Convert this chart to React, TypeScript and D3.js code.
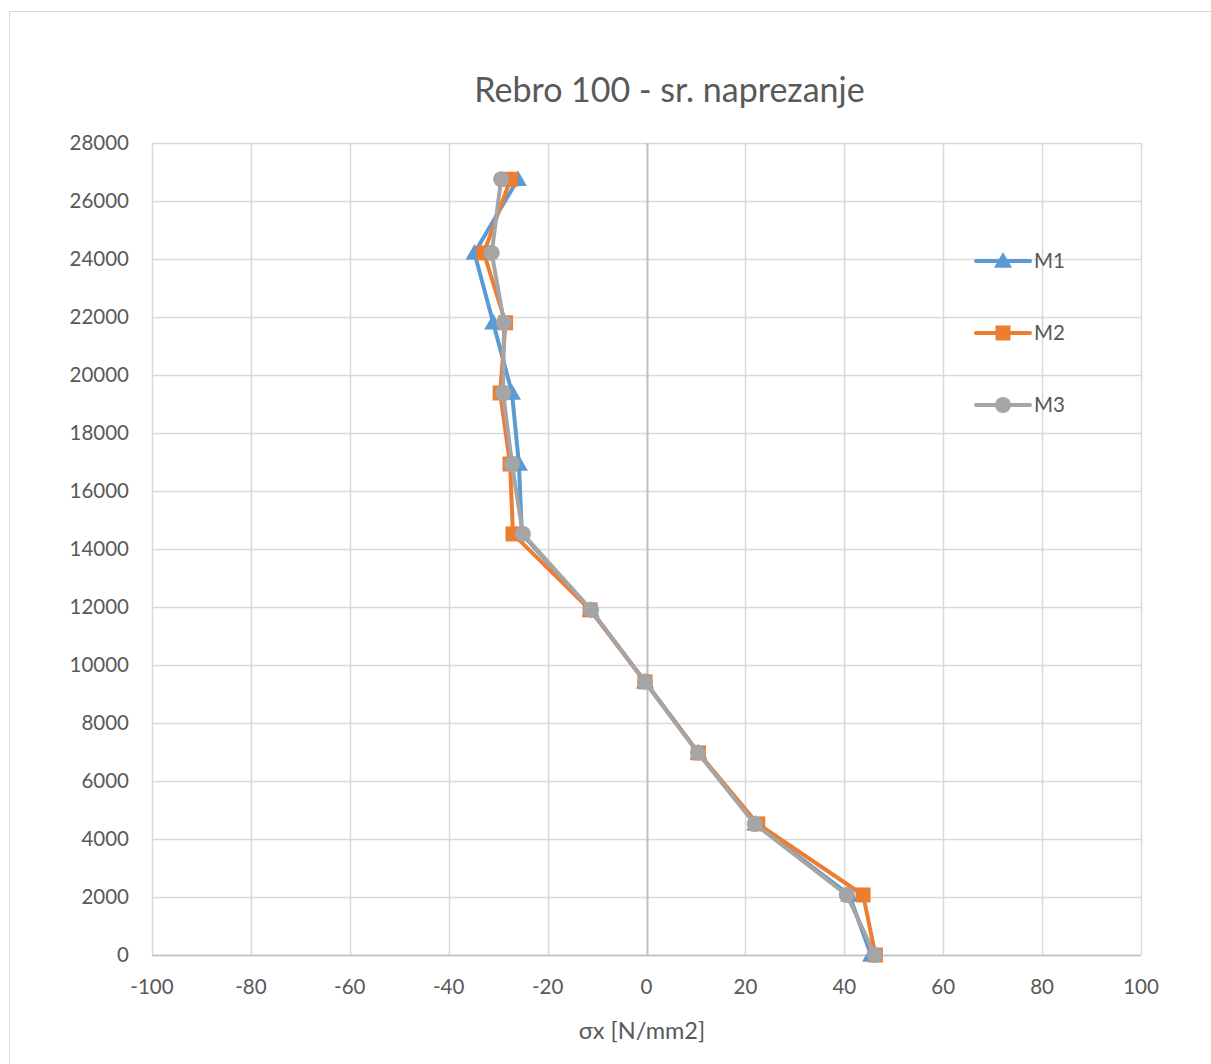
import React from "react";
import * as d3 from "d3";

const yLevels = [0, 2070, 4520, 6970, 9420, 11900, 14520, 16930, 19380, 21800, 24210, 26750];
const m1 = [45.4, 41.0, 22.0, 10.5, -0.3, -11.3, -25.2, -25.8, -27.2, -31.0, -34.8, -26.0];
const m2 = [46.3, 43.8, 22.5, 10.5, -0.3, -11.4, -27.0, -27.6, -29.6, -28.5, -32.9, -27.5];
const m3 = [46.2, 40.5, 21.9, 10.4, -0.3, -11.2, -25.0, -27.2, -29.0, -28.8, -31.3, -29.4];
const xTicks = [-100, -80, -60, -40, -20, 0, 20, 40, 60, 80, 100];
const yTicks = [0, 2000, 4000, 6000, 8000, 10000, 12000, 14000, 16000, 18000, 20000, 22000, 24000, 26000, 28000];
const seriesNames = ["M1", "M2", "M3"];
const seriesColors = ["#5b9bd5", "#ed7d31", "#a5a5a5"];
const title = "Rebro 100 - sr. naprezanje";
const xTitle = "σx [N/mm2]";

const W = 1211, H = 1064;
const L = 152, R = 1141, T = 143, B = 955;
const FONT = "Lato, 'Open Sans', sans-serif";
const TXT = "#595959";

function Marker({ kind, x, y, color }: { kind: number; x: number; y: number; color: string }) {
  if (kind === 0) {
    const s = 9;
    return <path d={`M${x},${y - s}L${x + s},${y + s * 0.75}L${x - s},${y + s * 0.75}Z`} fill={color} />;
  }
  if (kind === 1) {
    return <rect x={x - 7.5} y={y - 7.5} width={15} height={15} fill={color} />;
  }
  return <circle cx={x} cy={y} r={8} fill={color} />;
}

export default function App() {
  const x = d3.scaleLinear().domain([-100, 100]).range([L, R]);
  const y = d3.scaleLinear().domain([0, 28000]).range([B, T]);
  const data = [m1, m2, m3];
  const line = d3.line<[number, number]>().x((d) => x(d[0])).y((d) => y(d[1]));
  const legendY = [261, 333, 405];
  return (
    <svg width={W} height={H} style={{ position: "absolute", left: 0, top: 0, background: "#fff" }} fontFamily={FONT}>
      <rect x={0} y={0} width={W} height={H} fill="#fff" />
      <rect x={9.5} y={11.5} width={1230} height={1100} fill="#fff" stroke="#d9d9d9" strokeWidth={1} />
      {yTicks.map((t) => (
        <line key={"gy" + t} x1={L} x2={R} y1={Math.round(y(t)) + 0.5} y2={Math.round(y(t)) + 0.5} stroke="#d9d9d9" strokeWidth={1.5} />
      ))}
      {xTicks.map((t) => (
        <line key={"gx" + t} x1={Math.round(x(t)) + 0.5} x2={Math.round(x(t)) + 0.5} y1={T} y2={B} stroke={t === 0 ? "#bfbfbf" : "#d9d9d9"} strokeWidth={t === 0 ? 2 : 1.5} />
      ))}
      <line x1={L} x2={R} y1={B + 0.5} y2={B + 0.5} stroke="#bfbfbf" strokeWidth={1.5} />
      {yTicks.map((t) => (
        <text key={"ty" + t} x={129} y={y(t)} dy="0.35em" textAnchor="end" fontSize={20.5} fill={TXT}>{t}</text>
      ))}
      {xTicks.map((t) => (
        <text key={"tx" + t} x={x(t)} y={987} dy="0.35em" textAnchor="middle" fontSize={20.5} fill={TXT}>{t}</text>
      ))}
      <text x={669.5} y={90} dy="0.35em" textAnchor="middle" fontSize={34} fill={TXT}>{title}</text>
      <text x={642} y={1031} dy="0.35em" textAnchor="middle" fontSize={23.5} fill={TXT}>{xTitle}</text>
      {data.map((vals, i) => {
        const pts: [number, number][] = vals.map((v, j) => [v, yLevels[j]]);
        return (
          <g key={"s" + i}>
            <path d={line(pts) || ""} fill="none" stroke={seriesColors[i]} strokeWidth={4} strokeLinejoin="round" />
            {pts.map((p, j) => (
              <Marker key={j} kind={i} x={x(p[0])} y={y(p[1])} color={seriesColors[i]} />
            ))}
          </g>
        );
      })}
      {seriesNames.map((n, i) => (
        <g key={"l" + n}>
          <line x1={976} x2={1030} y1={legendY[i]} y2={legendY[i]} stroke={seriesColors[i]} strokeWidth={4} strokeLinecap="round" />
          <Marker kind={i} x={1003} y={legendY[i]} color={seriesColors[i]} />
          <text x={1034} y={legendY[i]} dy="0.35em" fontSize={20.5} fill={TXT}>{n}</text>
        </g>
      ))}
    </svg>
  );
}
